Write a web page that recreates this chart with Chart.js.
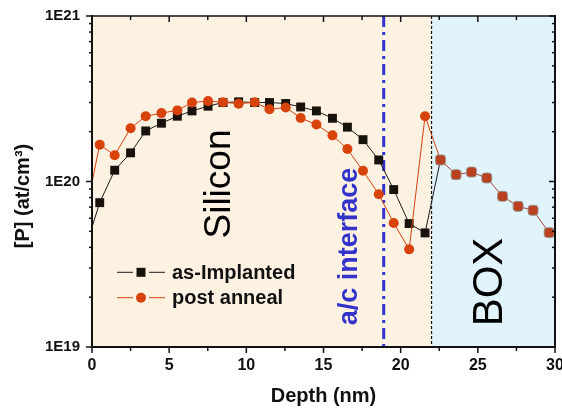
<!DOCTYPE html>
<html><head><meta charset="utf-8">
<script src="https://cdn.jsdelivr.net/npm/chart.js@4/dist/chart.umd.min.js"></script>
<style>html,body{margin:0;padding:0;background:#fff;}#wrap{width:562px;height:410px;position:relative;}</style>
</head><body><div id="wrap"><canvas id="c"></canvas></div>
<script>
// ---- data ----
const seriesNames = ['as-Implanted', 'post anneal'];
const depthSi = [0, 0.5, 1.47, 2.5, 3.48, 4.5, 5.53, 6.48, 7.52, 8.49, 9.5, 10.54, 11.5, 12.55, 13.52, 14.54, 15.58, 16.55, 17.56, 18.58, 19.55, 20.55, 21.58, 22.58];
const asImplanted = [5.3e19, 7.45e19, 1.17e20, 1.49e20, 2.02e20, 2.25e20, 2.48e20, 2.67e20, 2.85e20, 3.0e20, 3.03e20, 3.0e20, 3.0e20, 2.96e20, 2.82e20, 2.67e20, 2.41e20, 2.13e20, 1.79e20, 1.35e20, 8.94e19, 5.57e19, 4.89e19, 1.35e20];
const postAnneal = [9.9e19, 1.67e20, 1.44e20, 2.10e20, 2.48e20, 2.59e20, 2.69e20, 3.0e20, 3.06e20, 3.01e20, 2.95e20, 3.01e20, 2.73e20, 2.80e20, 2.42e20, 2.21e20, 1.90e20, 1.57e20, 1.16e20, 8.37e19, 5.61e19, 3.89e19, 2.48e20, 1.35e20];
const depthBox = [22.58, 23.59, 24.59, 25.58, 26.6, 27.61, 28.58, 29.62];
const boxValues = [1.35e20, 1.10e20, 1.14e20, 1.05e20, 8.14e19, 7.08e19, 6.70e19, 4.91e19];
const xTickValues = [0, 5, 10, 15, 20, 25, 30];
const yTickLabels = ['1E19', '1E20', '1E21'];
const xTitle = 'Depth (nm)';
const yTitle = '[P] (at/cm\u00B3)';
const regionLabels = ['Silicon', 'BOX'];
const interfaceLabel = 'a/c interface';
const interfaceDepth = 18.9;
const boxStart = 22;

const FONT = '"Liberation Sans", Arial, sans-serif';
const BLACK = '#17120b';
const ORANGE = '#D8430C';
const BOXRED = '#B9411F';

function vtext(ctx, txt, bx, cy, font, color) {
  ctx.save();
  ctx.translate(bx, cy);
  ctx.rotate(-Math.PI / 2);
  ctx.font = font; ctx.fillStyle = color;
  ctx.textAlign = 'center'; ctx.textBaseline = 'alphabetic';
  ctx.fillText(txt, 0, 0);
  ctx.restore();
}
function seg(ctx, x1, y1, x2, y2) { ctx.beginPath(); ctx.moveTo(x1, y1); ctx.lineTo(x2, y2); ctx.stroke(); }

const decor = {
  id: 'decor',
  beforeDatasetsDraw(chart) {
    const { ctx, chartArea: a, scales: { x } } = chart;
    const xb = x.getPixelForValue(boxStart);
    ctx.save();
    ctx.fillStyle = '#FDF1E1'; ctx.fillRect(a.left, a.top, xb - a.left, a.bottom - a.top);
    ctx.fillStyle = '#E1F3FB'; ctx.fillRect(xb, a.top, a.right - xb, a.bottom - a.top);
    // region labels
    vtext(ctx, regionLabels[0], a.left + 137.5, a.top + 168, '37px ' + FONT, '#000');
    vtext(ctx, regionLabels[1], a.left + 410, a.top + 266, '42px ' + FONT, '#000');
    vtext(ctx, interfaceLabel, a.left + 265, a.top + 230.5, 'bold 27px ' + FONT, '#3333CC');
    // interface line
    const xi = x.getPixelForValue(interfaceDepth);
    ctx.strokeStyle = '#3333CC'; ctx.lineWidth = 3; ctx.setLineDash([11, 5, 3, 5]);
    seg(ctx, xi, a.top, xi, a.bottom);
    // box boundary
    ctx.strokeStyle = '#111'; ctx.lineWidth = 1.2; ctx.setLineDash([3, 2]);
    seg(ctx, xb, a.top, xb, a.bottom);
    ctx.restore();
  },
  afterDraw(chart) {
    const { ctx, chartArea: a, scales: { x, y } } = chart;
    ctx.save();
    ctx.strokeStyle = '#111'; ctx.lineWidth = 1.5; ctx.setLineDash([]);
    for (let v = 0; v <= 30; v += 2.5) {
      const px = x.getPixelForValue(v);
      const L = (v % 5 === 0) ? 6 : 4;
      seg(ctx, px, a.bottom, px, a.bottom + L);
      seg(ctx, px, a.top, px, a.top + L);
    }
    for (let e = 19; e <= 21; e++) {
      for (let m = 1; m < 10; m++) {
        if (e === 21 && m > 1) break;
        const py = y.getPixelForValue(m * Math.pow(10, e));
        const L = m === 1 ? 6 : 3;
        seg(ctx, a.left - L, py, a.left, py);
        seg(ctx, a.right - L, py, a.right, py);
      }
    }
    // frame
    ctx.lineWidth = 2;
    seg(ctx, a.left, a.top - 1, a.left, a.bottom + 1);
    seg(ctx, a.left - 1, a.bottom, a.right + 1, a.bottom);
    seg(ctx, a.right, a.top - 1, a.right, a.bottom + 1);
    ctx.lineWidth = 1.5;
    seg(ctx, a.left, a.top, a.right, a.top);
    // axis titles
    ctx.fillStyle = '#111';
    ctx.font = 'bold 20px ' + FONT; ctx.textAlign = 'center'; ctx.textBaseline = 'alphabetic';
    ctx.fillText(xTitle, (a.left + a.right) / 2, 401.5);
    ctx.save();
    ctx.translate(23, 196); ctx.rotate(-Math.PI / 2);
    ctx.textBaseline = 'middle'; ctx.fillText(yTitle, 0, 0);
    ctx.restore();
    // legend
    const rows = [{ y: 272.3, c: '#1b1b1b', f: BLACK, sq: true }, { y: 297.7, c: ORANGE, f: ORANGE, sq: false }];
    rows.forEach((r, i) => {
      ctx.strokeStyle = r.c; ctx.lineWidth = 1;
      seg(ctx, 117, r.y, 133, r.y); seg(ctx, 149, r.y, 165, r.y);
      ctx.fillStyle = r.f;
      if (r.sq) ctx.fillRect(136.5, r.y - 4.5, 9, 9);
      else { ctx.beginPath(); ctx.arc(141, r.y, 5, 0, Math.PI * 2); ctx.fill(); }
      ctx.fillStyle = '#111'; ctx.font = 'bold 20px ' + FONT; ctx.textAlign = 'left'; ctx.textBaseline = 'middle';
      ctx.fillText(chart.data.datasets[i].label, 172, r.y + 1);
    });
    ctx.restore();
  }
};

new Chart(document.getElementById('c'), {
  type: 'line',
  data: {
    datasets: [
      { label: seriesNames[0], data: depthSi.map((d, i) => ({ x: d, y: asImplanted[i] })),
        borderColor: '#1b1b1b', borderWidth: 1, pointStyle: 'rect',
        pointRadius: c => c.dataIndex === 0 ? 0 : 6.3, pointBackgroundColor: BLACK, pointBorderColor: BLACK, pointBorderWidth: 0, order: 2 },
      { label: seriesNames[1], data: depthSi.map((d, i) => ({ x: d, y: postAnneal[i] })),
        borderColor: ORANGE, borderWidth: 1, pointStyle: 'circle',
        pointRadius: c => c.dataIndex === 0 ? 0 : 5, pointBackgroundColor: ORANGE, pointBorderColor: ORANGE, pointBorderWidth: 0, order: 1 },
      { label: 'BOX', data: depthBox.map((d, i) => ({ x: d, y: boxValues[i] })),
        borderColor: '#A8442A', borderWidth: 1, pointStyle: 'rectRounded',
        pointRadius: 5.8, pointBackgroundColor: BOXRED, pointBorderColor: 'rgba(150,150,150,0.9)', pointBorderWidth: 1, order: 0 }
    ]
  },
  options: {
    responsive: true, maintainAspectRatio: false, animation: false, devicePixelRatio: 1,
    layout: { padding: { left: 0, right: 7, top: 16, bottom: 0 } },
    plugins: { legend: { display: false }, tooltip: { enabled: false } },
    elements: { line: { tension: 0 } },
    scales: {
      x: {
        type: 'linear', min: 0, max: 30,
        grid: { display: false, drawTicks: false }, border: { display: false },
        ticks: { padding: 9, color: '#111', autoSkip: false, maxRotation: 0,
          font: { family: FONT, size: 16, weight: 'bold' } },
        afterBuildTicks: s => { s.ticks = xTickValues.map(v => ({ value: v })); },
        afterFit: s => { s.height = 63; s.paddingLeft = 0; s.paddingRight = 0; }
      },
      y: {
        type: 'logarithmic', min: 1e19, max: 1e21,
        grid: { display: false, drawTicks: false }, border: { display: false },
        ticks: { padding: 12, color: '#111', autoSkip: false,
          font: { family: FONT, size: 15, weight: 'bold' },
          callback: v => { const e = Math.log10(v); const r = Math.round(e); return Math.abs(e - r) < 1e-6 ? yTickLabels[r - 19] : ''; } },
        afterBuildTicks: s => { const t = []; for (let e = 19; e < 21; e++) for (let m = 1; m < 10; m++) t.push({ value: m * Math.pow(10, e) }); t.push({ value: 1e21 }); s.ticks = t; },
        afterFit: s => { s.width = 92; s.paddingTop = 0; s.paddingBottom = 0; }
      }
    }
  },
  plugins: [decor]
});
</script></body></html>
